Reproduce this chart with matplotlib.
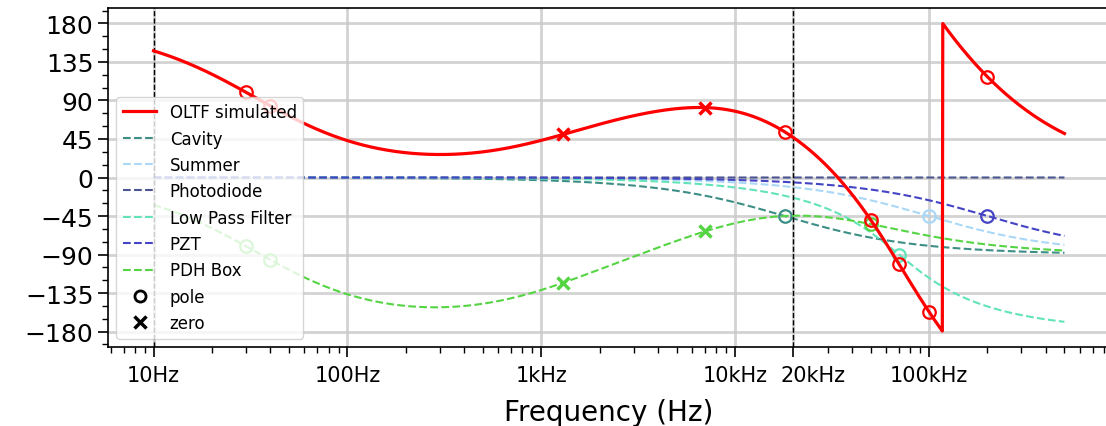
import numpy as np
import matplotlib.pyplot as plt
import matplotlib.transforms as mtransforms
from matplotlib.ticker import MultipleLocator, NullFormatter, LogLocator

plt.rcParams['font.family'] = 'DejaVu Sans'

# frequency span of the simulation (Hz)
f_start = 10.0
f_stop = 5e5

names = ['Cavity', 'Summer', 'Photodiode', 'Low Pass Filter', 'PZT', 'PDH Box']
colors = ['#3d8f86', '#aad8f6', '#4b5590', '#62e3bb', '#4444c4', '#55d444']
poles = [[1.8e4], [1e5], [], [], [2e5], [30, 40, 5e4]]
zeros = [[], [], [], [], [], [1.3e3, 7e3]]
# second order sections (f0 in Hz, Q)
resonances = [[], [], [], [(7e4, 0.707)], [], []]

xtick_pos = [10, 100, 1e3, 1e4, 2e4, 1e5]
xtick_lab = ['10Hz', '100Hz', '1kHz', '10kHz', '20kHz', '100kHz']
vlines = [10, 2e4]


def response(f, p, z, r):
    f = np.asarray(f, dtype=float)
    h = np.ones(f.shape, dtype=complex)
    for fp in p:
        h = h / (1 + 1j*f/fp)
    for fz in z:
        h = h * (1 + 1j*f/fz)
    for f0, q in r:
        h = h / (1 - (f/f0)**2 + 1j*f/(q*f0))
    return h


freq = np.logspace(np.log10(f_start), np.log10(f_stop), 2000)

comp = [response(freq, p, z, r) for p, z, r in zip(poles, zeros, resonances)]
H = -np.prod(comp, axis=0)   # inverting loop
oltf_phase = np.angle(H, deg=True)

all_p = [fp for p, r in zip(poles, resonances) for fp in p + [x[0] for x in r]]
all_z = [fz for z in zeros for fz in z]


def oltf_at(fm):
    h = -np.prod([response(fm, p, z, r) for p, z, r in zip(poles, zeros, resonances)], axis=0)
    return np.angle(h, deg=True)


fig = plt.figure(figsize=(11.06, 4.27), dpi=100)
ax = fig.add_axes([108/1106, 79/427, 1002/1106, 339/427])

ax.semilogx(freq, oltf_phase, color='red', lw=2.3, label='OLTF simulated', zorder=4)
ax.plot(all_p, oltf_at(np.array(all_p)), 'o', mfc='none', mec='red', ms=9, mew=1.6, zorder=4)
ax.plot(all_z, oltf_at(np.array(all_z)), 'x', color='red', ms=9, mew=2.5, zorder=4)

for name, c, h, p, z, r in zip(names, colors, comp, poles, zeros, resonances):
    ph = np.degrees(np.unwrap(np.angle(h)))
    ax.plot(freq, ph, '--', color=c, lw=1.5, label=name)
    pp = np.array(p + [x[0] for x in r])
    if len(pp):
        ax.plot(pp, np.degrees(np.angle(response(pp, p, z, r))), 'o',
                mfc='none', mec=c, ms=9, mew=1.6)
    if len(z):
        zz = np.array(z)
        ax.plot(zz, np.degrees(np.angle(response(zz, p, z, r))), 'x',
                color=c, ms=9, mew=2.5)

ax.plot([], [], 'o', mfc='none', mec='black', mew=2, ms=8, label='pole')
ax.plot([], [], 'x', color='black', mew=2.5, ms=8, label='zero')

for v in vlines:
    ax.axvline(v, color='black', ls='--', lw=1.0, zorder=3)

ax.set_xlim(10**0.765, 10**5.934)
ax.set_ylim(-198, 198)
ax.set_xticks(xtick_pos)
ax.set_xticklabels(xtick_lab)
ax.xaxis.set_minor_locator(LogLocator(base=10, subs=np.arange(2, 10), numticks=20))
ax.xaxis.set_minor_formatter(NullFormatter())
ax.set_yticks(np.arange(-180, 181, 45))
ax.yaxis.set_minor_locator(MultipleLocator(15))

ax.tick_params(axis='both', which='major', length=7, width=1.2)
ax.tick_params(axis='both', which='minor', length=4, width=1.0)
ax.tick_params(axis='x', labelsize=15, pad=6)
ax.tick_params(axis='y', labelsize=18)
for s in ax.spines.values():
    s.set_linewidth(1.2)

# nudge the 20kHz label right so it clears 10kHz
lbl = ax.get_xticklabels()[xtick_lab.index('20kHz')]
lbl.set_transform(lbl.get_transform() + mtransforms.ScaledTranslation(14/72, 0, fig.dpi_scale_trans))

ax.grid(True, which='major', color='#c8c8c8', lw=2, alpha=0.8)
ax.set_xlabel('Frequency (Hz)', fontsize=20, labelpad=9)
ax.legend(loc='lower left', fontsize=12)

fig.savefig('out.png', dpi=100)
